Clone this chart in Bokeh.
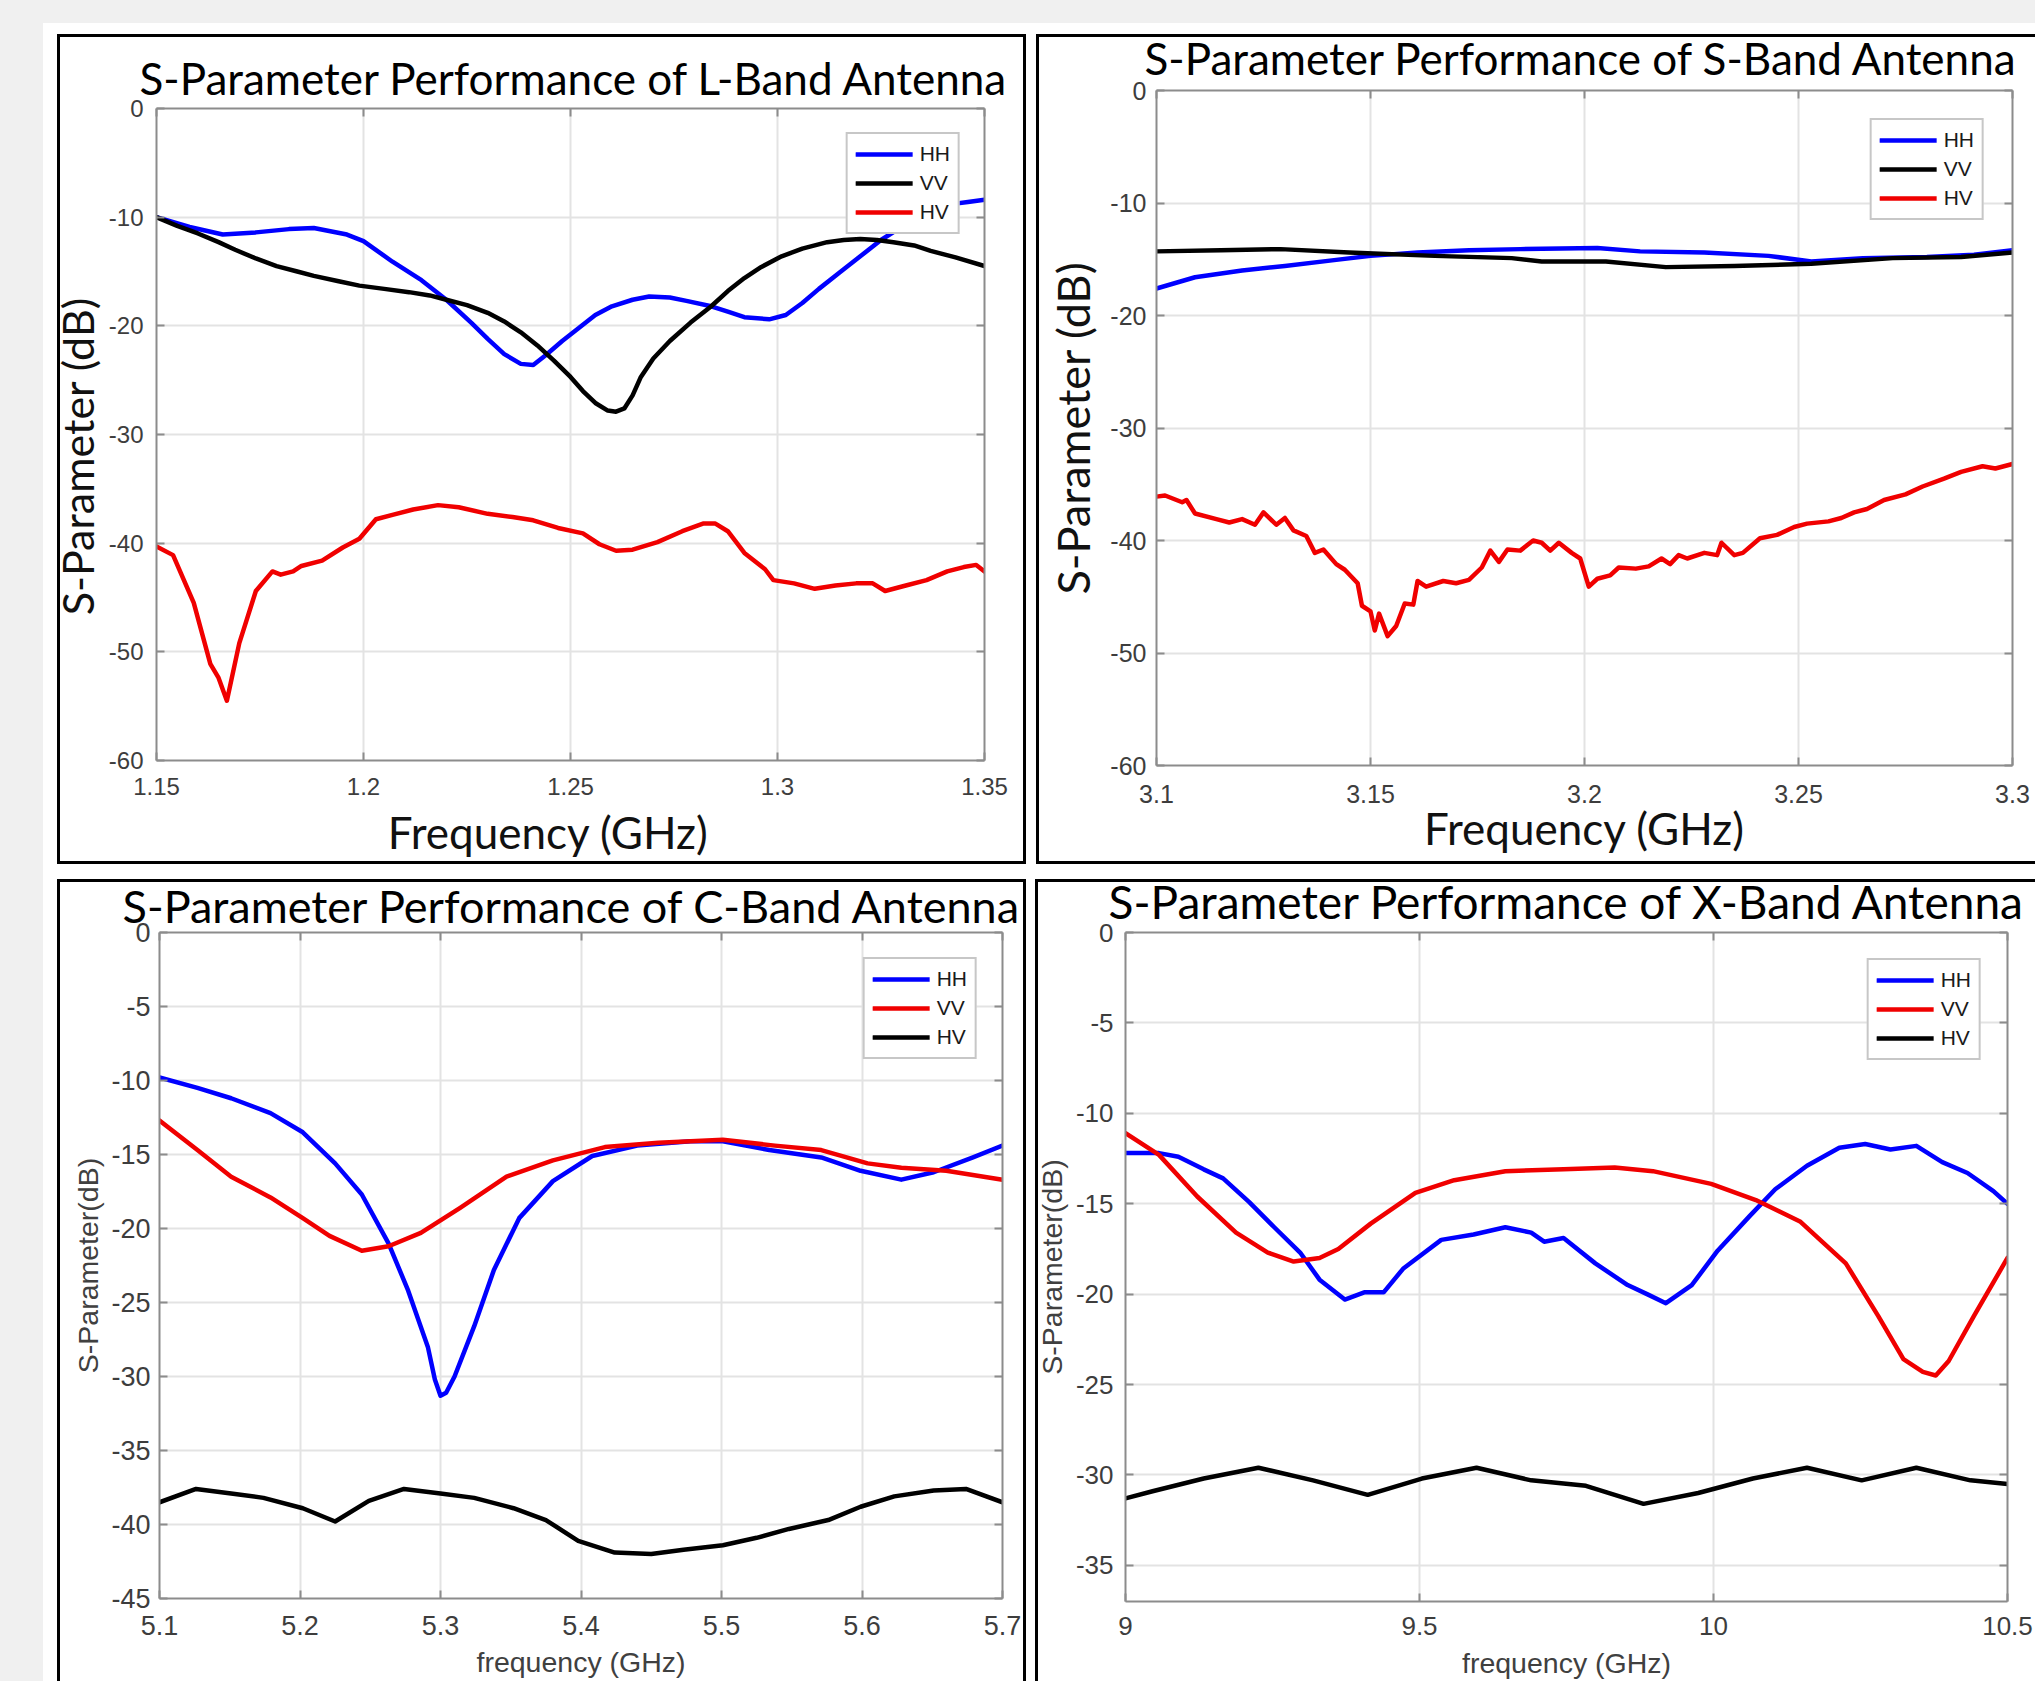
from bokeh.plotting import figure
from bokeh.models import Range1d, FixedTicker, LinearAxis, Legend, LegendItem
from bokeh.layouts import row, column
from bokeh.embed import file_html
from bokeh.resources import INLINE

# ---------------- data: L-band ----------------
L_HH_F = [1.150, 1.158, 1.166, 1.174, 1.182, 1.188, 1.196, 1.200, 1.207, 1.214, 1.220, 1.226, 1.230, 1.234,
          1.238, 1.241, 1.244, 1.248, 1.252, 1.256, 1.260, 1.265, 1.269, 1.274, 1.278, 1.284, 1.288, 1.292,
          1.298, 1.302, 1.306, 1.310, 1.315, 1.320, 1.325, 1.330, 1.334, 1.338, 1.342, 1.346, 1.350]
L_HH = [-10.0, -10.9, -11.6, -11.4, -11.1, -11.0, -11.6, -12.2, -14.1, -15.8, -17.6, -19.7, -21.2, -22.6,
        -23.5, -23.6, -22.7, -21.4, -20.2, -19.0, -18.2, -17.6, -17.3, -17.4, -17.7, -18.2, -18.7, -19.2,
        -19.4, -19.0, -17.9, -16.6, -15.1, -13.6, -12.1, -10.9, -9.8, -9.3, -8.8, -8.6, -8.4]
L_VV_F = [1.150, 1.155, 1.160, 1.165, 1.169, 1.174, 1.179, 1.184, 1.188, 1.194, 1.199, 1.205, 1.211, 1.216,
          1.220, 1.225, 1.230, 1.234, 1.238, 1.242, 1.246, 1.250, 1.253, 1.256, 1.259, 1.261, 1.263, 1.265,
          1.267, 1.270, 1.274, 1.279, 1.284, 1.288, 1.292, 1.296, 1.301, 1.306, 1.312, 1.316, 1.320, 1.324,
          1.328, 1.333, 1.337, 1.343, 1.350]
L_VV = [-10.0, -10.8, -11.5, -12.3, -13.0, -13.8, -14.5, -15.0, -15.4, -15.9, -16.3, -16.6, -16.9, -17.2,
        -17.6, -18.1, -18.8, -19.6, -20.6, -21.8, -23.2, -24.7, -26.0, -27.1, -27.8, -27.9, -27.6, -26.4,
        -24.7, -23.0, -21.4, -19.7, -18.2, -16.8, -15.6, -14.6, -13.6, -12.9, -12.3, -12.1, -12.0, -12.1,
        -12.3, -12.6, -13.1, -13.7, -14.5]
L_HV_F = [1.150, 1.154, 1.159, 1.163, 1.165, 1.167, 1.170, 1.174, 1.178, 1.180, 1.183, 1.185, 1.190, 1.195,
          1.199, 1.203, 1.207, 1.212, 1.218, 1.223, 1.230, 1.236, 1.241, 1.247, 1.253, 1.257, 1.261, 1.265,
          1.271, 1.277, 1.282, 1.285, 1.288, 1.292, 1.297, 1.299, 1.304, 1.309, 1.314, 1.319, 1.323, 1.326,
          1.331, 1.336, 1.341, 1.345, 1.348, 1.350]
L_HV = [-40.3, -41.1, -45.5, -51.1, -52.4, -54.5, -49.2, -44.4, -42.6, -42.9, -42.6, -42.1, -41.6, -40.4,
        -39.6, -37.8, -37.4, -36.9, -36.5, -36.7, -37.3, -37.6, -37.9, -38.6, -39.1, -40.1, -40.7, -40.6,
        -39.9, -38.9, -38.2, -38.2, -38.9, -40.9, -42.4, -43.4, -43.7, -44.2, -43.9, -43.7, -43.7, -44.4,
        -43.9, -43.4, -42.6, -42.2, -42.0, -42.6]
L_XTICKS = [1.15, 1.2, 1.25, 1.3, 1.35]
L_XLABELS = ["1.15", "1.2", "1.25", "1.3", "1.35"]
L_YTICKS = [0, -10, -20, -30, -40, -50, -60]

# ---------------- data: S-band ----------------
S_HH_F = [3.100, 3.109, 3.120, 3.130, 3.141, 3.150, 3.161, 3.173, 3.185, 3.203, 3.213, 3.228, 3.243, 3.253,
          3.265, 3.280, 3.291, 3.300]
S_HH = [-17.6, -16.6, -16.0, -15.6, -15.1, -14.7, -14.4, -14.2, -14.1, -14.0, -14.3, -14.4, -14.7, -15.2,
        -14.9, -14.8, -14.6, -14.2]
S_VV_F = [3.100, 3.115, 3.129, 3.145, 3.165, 3.183, 3.190, 3.205, 3.219, 3.235, 3.253, 3.272, 3.288, 3.300]
S_VV = [-14.3, -14.2, -14.1, -14.4, -14.7, -14.9, -15.2, -15.2, -15.7, -15.6, -15.4, -14.9, -14.8, -14.4]
S_HV_F = [3.100, 3.102, 3.106, 3.107, 3.109, 3.114, 3.117, 3.120, 3.123, 3.125, 3.128, 3.130, 3.132, 3.135,
          3.137, 3.139, 3.142, 3.144, 3.147, 3.148, 3.150, 3.151, 3.152, 3.154, 3.156, 3.158, 3.160, 3.161,
          3.163, 3.167, 3.170, 3.173, 3.176, 3.178, 3.180, 3.182, 3.185, 3.188, 3.190, 3.192, 3.194, 3.197,
          3.199, 3.201, 3.203, 3.206, 3.208, 3.212, 3.215, 3.218, 3.220, 3.222, 3.224, 3.228, 3.231, 3.232,
          3.235, 3.237, 3.241, 3.245, 3.249, 3.252, 3.257, 3.260, 3.263, 3.266, 3.270, 3.275, 3.279, 3.284,
          3.288, 3.293, 3.296, 3.300]
S_HV = [-36.1, -36.0, -36.6, -36.4, -37.6, -38.1, -38.4, -38.1, -38.6, -37.5, -38.6, -38.0, -39.1, -39.6,
        -41.1, -40.8, -42.1, -42.6, -43.8, -45.8, -46.3, -48.0, -46.5, -48.5, -47.6, -45.6, -45.7, -43.6,
        -44.1, -43.6, -43.8, -43.5, -42.4, -40.9, -41.9, -40.8, -40.9, -40.0, -40.2, -40.9, -40.2, -41.1,
        -41.6, -44.1, -43.4, -43.1, -42.4, -42.5, -42.3, -41.6, -42.1, -41.3, -41.6, -41.1, -41.3, -40.2,
        -41.3, -41.1, -39.8, -39.5, -38.8, -38.5, -38.3, -38.0, -37.5, -37.2, -36.4, -35.9, -35.2, -34.5,
        -33.9, -33.4, -33.6, -33.2]
S_XTICKS = [3.1, 3.15, 3.2, 3.25, 3.3]
S_XLABELS = ["3.1", "3.15", "3.2", "3.25", "3.3"]
S_YTICKS = [0, -10, -20, -30, -40, -50, -60]

# ---------------- data: C-band ----------------
C_HH_F = [5.100, 5.127, 5.151, 5.179, 5.202, 5.225, 5.244, 5.263, 5.277, 5.291, 5.296, 5.300, 5.304, 5.310,
          5.324, 5.338, 5.356, 5.380, 5.408, 5.440, 5.478, 5.501, 5.534, 5.571, 5.599, 5.628, 5.651, 5.679,
          5.700]
C_HH = [-9.8, -10.5, -11.2, -12.2, -13.5, -15.6, -17.7, -21.0, -24.2, -28.0, -30.2, -31.3, -31.1, -30.0,
        -26.6, -22.8, -19.3, -16.8, -15.1, -14.4, -14.1, -14.1, -14.7, -15.2, -16.1, -16.7, -16.2, -15.2,
        -14.4]
C_VV_F = [5.100, 5.127, 5.151, 5.179, 5.202, 5.221, 5.244, 5.263, 5.286, 5.314, 5.347, 5.380, 5.417, 5.455,
          5.501, 5.538, 5.571, 5.604, 5.628, 5.660, 5.700]
C_VV = [-12.7, -14.7, -16.5, -17.9, -19.3, -20.5, -21.5, -21.2, -20.3, -18.6, -16.5, -15.4, -14.5, -14.2,
        -14.0, -14.4, -14.7, -15.6, -15.9, -16.1, -16.7]
C_HV_F = [5.100, 5.126, 5.151, 5.174, 5.202, 5.225, 5.249, 5.274, 5.300, 5.324, 5.352, 5.375, 5.398, 5.424,
          5.450, 5.473, 5.501, 5.525, 5.548, 5.576, 5.599, 5.623, 5.651, 5.674, 5.700]
C_HV = [-38.5, -37.6, -37.9, -38.2, -38.9, -39.8, -38.4, -37.6, -37.9, -38.2, -38.9, -39.7, -41.1, -41.9,
        -42.0, -41.7, -41.4, -40.9, -40.3, -39.7, -38.8, -38.1, -37.7, -37.6, -38.5]
C_XTICKS = [5.1, 5.2, 5.3, 5.4, 5.5, 5.6, 5.7]
C_XLABELS = ["5.1", "5.2", "5.3", "5.4", "5.5", "5.6", "5.7"]
C_YTICKS = [0, -5, -10, -15, -20, -25, -30, -35, -40, -45]

# ---------------- data: X-band ----------------
X_HH_F = [9.000, 9.057, 9.090, 9.133, 9.166, 9.210, 9.253, 9.297, 9.330, 9.373, 9.406, 9.439, 9.472, 9.537,
          9.592, 9.646, 9.690, 9.712, 9.745, 9.799, 9.854, 9.887, 9.919, 9.963, 10.007, 10.061, 10.105,
          10.159, 10.214, 10.258, 10.301, 10.345, 10.389, 10.432, 10.476, 10.500]
X_HH = [-12.2, -12.2, -12.4, -13.1, -13.6, -14.9, -16.3, -17.7, -19.2, -20.3, -19.9, -19.9, -18.6, -17.0,
        -16.7, -16.3, -16.6, -17.1, -16.9, -18.3, -19.5, -20.0, -20.5, -19.5, -17.6, -15.7, -14.2,
        -12.9, -11.9, -11.7, -12.0, -11.8, -12.7, -13.3, -14.3, -15.0]
X_VV_F = [9.000, 9.057, 9.122, 9.188, 9.242, 9.286, 9.330, 9.362, 9.417, 9.493, 9.559, 9.646, 9.745, 9.832,
          9.897, 9.996, 10.072, 10.148, 10.225, 10.280, 10.323, 10.356, 10.378, 10.400, 10.443, 10.500]
X_VV = [-11.1, -12.3, -14.6, -16.6, -17.7, -18.2, -18.0, -17.5, -16.1, -14.4, -13.7, -13.2, -13.1, -13.0,
        -13.2, -13.9, -14.8, -16.0, -18.3, -21.2, -23.6, -24.3, -24.5, -23.7, -21.2, -18.0]
X_HV_F = [9.000, 9.046, 9.133, 9.226, 9.319, 9.412, 9.504, 9.597, 9.690, 9.783, 9.881, 9.974, 10.067,
          10.159, 10.252, 10.345, 10.437, 10.500]
X_HV = [-31.3, -30.9, -30.2, -29.6, -30.3, -31.1, -30.2, -29.6, -30.3, -30.6, -31.6, -31.0, -30.2,
        -29.6, -30.3, -29.6, -30.3, -30.5]
X_XTICKS = [9, 9.5, 10, 10.5]
X_XLABELS = ["9", "9.5", "10", "10.5"]
X_YTICKS = [0, -5, -10, -15, -20, -25, -30, -35]

BLUE, RED, BLACK = "#0000ff", "#f00000", "#000000"
AXC = "#8c8c8c"
TICKC = "#3d3d3d"
GRIDC = "#e3e3e3"


def make_panel(cfg):
    (x0, x1), (y0, y1) = cfg["xr"], cfg["yr"]
    bl, br, bt, bb = cfg["b"]
    p = figure(width=cfg["w"], height=cfg["h"], x_range=Range1d(x0, x1), y_range=Range1d(y0, y1),
               output_backend="svg", toolbar_location=None,
               min_border_left=bl, min_border_right=br, min_border_top=bt, min_border_bottom=bb,
               background_fill_color="white", border_fill_color=None,
               styles={"background-color": "white", "box-shadow": cfg["shadow"]})
    try:
        p.frame_align = False
    except Exception:
        pass
    p.outline_line_color = None
    xt = FixedTicker(ticks=cfg["xticks"])
    yt = FixedTicker(ticks=cfg["yticks"])
    xax, yax = p.xaxis[0], p.yaxis[0]
    xax.ticker = xt
    yax.ticker = yt
    xax.major_label_overrides = {t: s for t, s in zip(cfg["xticks"], cfg["xlabels"])}
    yax.major_label_overrides = {t: str(t) for t in cfg["yticks"]}
    p.xgrid[0].ticker = xt
    p.ygrid[0].ticker = yt
    for g in (p.xgrid[0], p.ygrid[0]):
        g.grid_line_color = GRIDC
        g.grid_line_width = 2
    for ax in (xax, yax):
        ax.axis_line_color = AXC
        ax.axis_line_width = 2
        ax.major_tick_line_color = AXC
        ax.major_tick_line_width = 2
        ax.major_tick_in = 8
        ax.major_tick_out = 0
        ax.minor_tick_line_color = None
        ax.major_label_text_font = "Liberation Sans"
        ax.major_label_text_font_size = cfg["tick_size"]
        ax.major_label_text_color = TICKC
        ax.axis_label_text_font = cfg["label_font"]
        ax.axis_label_text_color = cfg["label_color"]
        ax.axis_label_text_font_style = "normal"
    xax.axis_label = cfg["xlabel"] + cfg.get("xlabel_pad", "")
    yax.axis_label = cfg["ylabel"] + cfg.get("ylabel_pad", "")
    xax.axis_label_text_font_size = cfg["xlabel_size"]
    yax.axis_label_text_font_size = cfg["ylabel_size"]
    xax.major_label_standoff = cfg["xtick_standoff"]
    yax.major_label_standoff = cfg["ytick_standoff"]
    xax.axis_label_standoff = cfg["xlabel_standoff"]
    yax.axis_label_standoff = cfg["ylabel_standoff"]
    # box axes (top / right): tick marks only, no labels
    for side, tks in (("above", cfg["xticks"]), ("right", cfg["yticks"])):
        ax = LinearAxis(ticker=FixedTicker(ticks=[], minor_ticks=tks),
                        axis_line_color=AXC, axis_line_width=2,
                        major_tick_line_color=None, minor_tick_line_color=AXC,
                        minor_tick_line_width=2, minor_tick_in=8, minor_tick_out=0)
        p.add_layout(ax, side)

    t = p.title
    t.text = cfg["title"]
    t.text_font = "Lato"
    t.text_font_size = cfg["title_size"]
    t.text_font_style = "normal"
    t.text_color = "#000000"
    t.align = "left"
    t.offset = cfg["title_offset"]
    t.standoff = cfg["title_standoff"]

    items = []
    for name, xs, ys, col in cfg["series"]:
        r = p.line(xs, ys, line_color=col, line_width=4.5, line_join="round", line_cap="round")
        items.append(LegendItem(label=name, renderers=[r]))
    leg = Legend(items=items, location="top_right", margin=cfg["legend_margin"],
                 label_text_font="Liberation Sans", label_text_font_size="21px",
                 label_text_color="#1a1a1a", glyph_width=57, glyph_height=24,
                 label_standoff=7, spacing=5, padding=8,
                 border_line_color="#8f8f8f", border_line_width=2,
                 background_fill_color="white", background_fill_alpha=1.0)
    p.add_layout(leg)
    return p


GREY = "#f0f0f0"

p1 = make_panel(dict(
    w=1031, h=866, b=(156, 47, 108, 106), xr=(1.15, 1.35), yr=(-60, 0),
    xticks=L_XTICKS, xlabels=L_XLABELS, yticks=L_YTICKS,
    title="S-Parameter Performance of L-Band Antenna", title_size="44px", title_offset=-17, title_standoff=10,
    xlabel="Frequency (GHz)", ylabel="S-Parameter (dB)", label_font="Lato",
    xlabel_pad="\u2002\u00a0\u00a0", ylabel_pad="\u2003\u00a0",
    xlabel_size="44px", ylabel_size="43px", label_color="#111111",
    tick_size="24px", xtick_standoff=17, ytick_standoff=13, xlabel_standoff=8, ylabel_standoff=3,
    legend_margin=24,
    shadow=(f"inset 43px 23px 0 0 {GREY}, inset 57px 34px 0 0 #fff, inset -5px -2px 0 0 #fff, "
            "inset 60px 37px 0 0 #000, inset -8px -5px 0 0 #000"),
    series=[("HH", L_HH_F, L_HH, BLUE), ("VV", L_VV_F, L_VV, BLACK), ("HV", L_HV_F, L_HV, RED)]))

p2 = make_panel(dict(
    w=1004, h=866, b=(125, 23, 90, 101), xr=(3.1, 3.3), yr=(-60, 0),
    xticks=S_XTICKS, xlabels=S_XLABELS, yticks=S_YTICKS,
    title="S-Parameter Performance of S-Band Antenna", title_size="44px", title_offset=-12, title_standoff=13,
    xlabel="Frequency (GHz)", ylabel="S-Parameter (dB)", label_font="Lato",
    xlabel_size="44px", ylabel_size="45px", label_color="#111111",
    tick_size="25px", xtick_standoff=19, ytick_standoff=10, xlabel_standoff=-4, ylabel_standoff=7,
    legend_margin=28,
    shadow=(f"inset 0 23px 0 0 {GREY}, inset 5px 34px 0 0 #fff, inset 0 -2px 0 0 #fff, "
            "inset 8px 37px 0 0 #000, inset 0 -5px 0 0 #000"),
    series=[("HH", S_HH_F, S_HH, BLUE), ("VV", S_VV_F, S_VV, BLACK), ("HV", S_HV_F, S_HV, RED)]))

p3 = make_panel(dict(
    w=1031, h=815, b=(159, 29, 66, 83), xr=(5.1, 5.7), yr=(-45, 0),
    xticks=C_XTICKS, xlabels=C_XLABELS, yticks=C_YTICKS,
    title="S-Parameter Performance of C-Band Antenna", title_size="45px", title_offset=-37, title_standoff=0,
    xlabel="frequency (GHz)", ylabel="S-Parameter(dB)", label_font="Liberation Sans",
    xlabel_size="28.5px", ylabel_size="28.5px", label_color="#404040",
    tick_size="27px", xtick_standoff=17, ytick_standoff=9, xlabel_standoff=8, ylabel_standoff=4,
    legend_margin=25,
    shadow=(f"inset 43px 0 0 0 {GREY}, inset 57px 13px 0 0 #fff, inset -5px 0 0 0 #fff, "
            "inset 60px 16px 0 0 #000, inset -8px 0 0 0 #000"),
    series=[("HH", C_HH_F, C_HH, BLUE), ("VV", C_VV_F, C_VV, RED), ("HV", C_HV_F, C_HV, BLACK)]))

p4 = make_panel(dict(
    w=1004, h=815, b=(94, 28, 66, 79), xr=(9, 10.5), yr=(-37, 0),
    xticks=X_XTICKS, xlabels=X_XLABELS, yticks=X_YTICKS,
    title="S-Parameter Performance of X-Band Antenna", title_size="46px", title_offset=-17, title_standoff=7,
    xlabel="frequency (GHz)", ylabel="S-Parameter(dB)", label_font="Liberation Sans",
    xlabel_size="28.5px", ylabel_size="28.5px", label_color="#404040",
    tick_size="26px", xtick_standoff=15, ytick_standoff=12, xlabel_standoff=9, ylabel_standoff=5,
    legend_margin=26,
    shadow="inset 4px 13px 0 0 #fff, inset 7px 16px 0 0 #000",
    series=[("HH", X_HH_F, X_HH, BLUE), ("VV", X_VV_F, X_VV, RED), ("HV", X_HV_F, X_HV, BLACK)]))

root = column(row(p1, p2), row(p3, p4))

open("out.html", "w").write(file_html(root, INLINE))
